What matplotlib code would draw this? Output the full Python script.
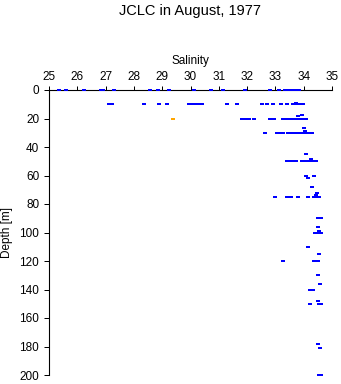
import matplotlib
matplotlib.use("Agg")
import matplotlib.pyplot as plt

plt.rcParams['font.family'] = ['Liberation Sans', 'DejaVu Sans']

# Blue observations: salinity and depth [m]
salinity = [
    # 0 m
    25.36, 25.61, 26.25, 26.85, 26.92, 27.31, 28.58, 28.86, 29.25, 30.12, 30.73,
    31.16, 31.93, 32.82, 33.13, 33.33, 33.40, 33.47, 33.55, 33.62, 33.70, 33.77, 33.85,
    # 10 m
    27.13, 27.22, 28.36, 28.90, 29.16, 29.96, 30.05, 30.15, 30.30, 30.40, 31.28, 31.65,
    32.53, 32.70, 32.93, 33.19, 33.42, 33.63, 33.70, 33.78, 33.85, 33.92, 33.98, 33.72,
    # 20 m
    31.81, 31.87, 31.95, 32.08, 32.24, 32.82, 32.88, 32.94, 33.26, 33.33, 33.40, 33.47,
    33.55, 33.62, 33.70, 33.78, 33.86, 33.94, 34.02, 34.07, 33.80, 33.95,
    # 30 m
    32.64, 33.05, 33.12, 33.20, 33.28, 33.46, 33.55, 33.67, 33.75, 33.83, 33.91, 33.99,
    34.07, 34.15, 34.23, 34.31, 34.01, 34.03,
    # 45-50 m
    34.08, 33.40, 33.50, 33.62, 33.72, 33.95, 34.03, 34.11, 34.19, 34.27, 34.35, 34.43, 34.27,
    # 60-75 m
    34.07, 34.14, 34.36, 34.28, 34.46, 34.43,
    33.00, 33.40, 33.55, 33.80, 34.14, 34.35, 34.45, 34.55,
    # 90-120 m
    34.50, 34.60, 34.51, 34.55, 34.40, 34.50, 34.60, 34.16, 34.55, 33.28, 34.37, 34.52,
    # 130-200 m
    34.52, 34.59, 34.22, 34.32, 34.23, 34.55, 34.60, 34.52, 34.52, 34.59, 34.53, 34.62,
]
depth = [
    0, 0, 0, 0, 0, 0, 0, 0, 0, 0, 0,
    0, 0, 0, 0, 0, 0, 0, 0, 0, 0, 0, 0,
    10, 10, 10, 10, 10, 10, 10, 10, 10, 10, 10, 10,
    10, 10, 10, 10, 10, 10, 10, 10, 10, 10, 10, 9,
    20, 20, 20, 20, 20, 20, 20, 20, 20, 20, 20, 20,
    20, 20, 20, 20, 20, 20, 20, 20, 18.5, 17.5,
    30, 30, 30, 30, 30, 30, 30, 30, 30, 30, 30, 30,
    30, 30, 30, 30, 27, 28.5,
    45, 50, 50, 50, 50, 50, 50, 50, 50, 50, 50, 50, 48.4,
    60.5, 61.5, 60.5, 68.3, 72.5, 74,
    75.3, 75.3, 75.3, 75.3, 75.3, 75.3, 75.3, 75.3,
    90, 90, 96.4, 99, 100.6, 100.6, 100.6, 110.4, 115.3, 120.2, 120.2, 120.2,
    130, 136.4, 140.1, 140.1, 150.4, 150.4, 150.4, 148, 178.2, 181.3, 200, 200,
]

# Orange observation
salinity_orange = [29.39]
depth_orange = [20]

xticks = list(range(25, 36))
yticks = list(range(0, 201, 20))

fig = plt.figure(figsize=(3.41, 3.84), dpi=100)
ax = fig.add_axes([49/341, 9/384, 283/341, 285/384])

rect = [(-1.8, -1.3), (1.8, -1.3), (1.8, 1.3), (-1.8, 1.3), (-1.8, -1.3)]
ax.plot(salinity, depth, linestyle='none', marker=rect, markersize=3.7*0.72,
        color='#0000ff', markeredgewidth=0, clip_on=False, zorder=3)
ax.plot(salinity_orange, depth_orange, linestyle='none', marker=rect, markersize=3.7*0.72,
        color='#ffa500', markeredgewidth=0, clip_on=False, zorder=3)

ax.set_xlim(25, 35)
ax.set_ylim(200, 0)
ax.xaxis.tick_top()
ax.set_xticks(xticks)
ax.set_yticks(yticks)
ax.tick_params(axis='x', direction='out', length=4*0.72, width=0.72, pad=2, labelsize=8.5)
ax.tick_params(axis='y', direction='out', length=5*0.72, width=0.72, pad=3.5, labelsize=8.5)
for s in ['right', 'bottom']:
    ax.spines[s].set_visible(False)
for s in ['top', 'left']:
    ax.spines[s].set_linewidth(0.8)

fig.text(190.5/341, 1 - 11/384, 'JCLC in August, 1977', ha='center', va='center', fontsize=10.5)
fig.text(190.5/341, 1 - 61/384, 'Salinity', ha='center', va='center', fontsize=8.5)
fig.text(7/341, 1 - 232.5/384, 'Depth [m]', ha='center', va='center', rotation=90, fontsize=8.5)

fig.savefig('out.png', dpi=100)
